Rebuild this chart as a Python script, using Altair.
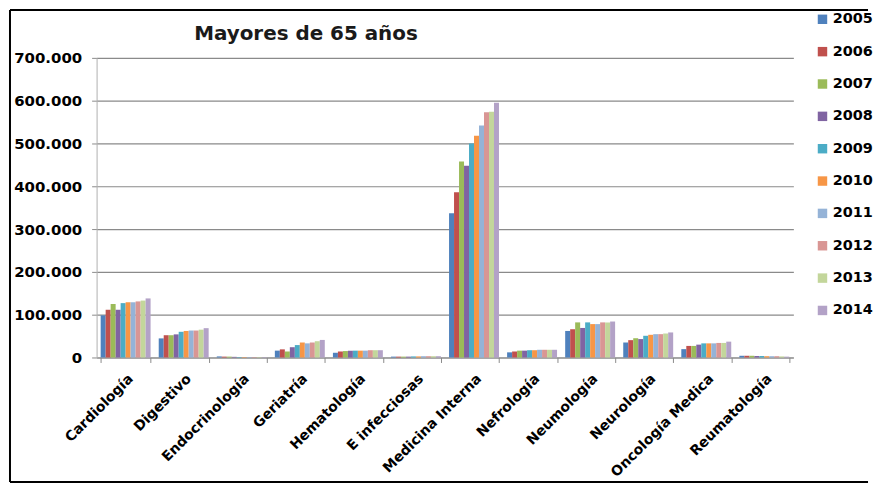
import altair as alt
import pandas as pd

categories = ["Cardiología", "Digestivo", "Endocrinología", "Geriatría", "Hematología",
              "E infecciosas", "Medicina Interna", "Nefrología", "Neumología",
              "Neurología", "Oncología Medica", "Reumatología"]
years = ["2005", "2006", "2007", "2008", "2009", "2010", "2011", "2012", "2013", "2014"]
chart_title = "Mayores de 65 años"

cardiologia = [98500, 111500, 125000, 111500, 127000, 129000, 129000, 131000, 133000, 138000]
digestivo = [44600, 52000, 52000, 54000, 60000, 62000, 63000, 63000, 65000, 68500]
endocrinologia = [2500, 2000, 2000, 1500, 1200, 1000, 1000, 1000, 1000, 1000]
geriatria = [16000, 19000, 14000, 24000, 29000, 35000, 33000, 35000, 38000, 41000]
hematologia = [11000, 14000, 15000, 16000, 16000, 16000, 16000, 17000, 17000, 17000]
e_infecciosas = [2000, 2000, 2000, 2000, 2500, 2500, 3000, 3000, 3000, 3000]
medicina_interna = [337000, 386000, 458000, 448000, 500000, 518000, 542000, 573000, 574000, 595000]
nefrologia = [12000, 14000, 16000, 16000, 17000, 17000, 18000, 18000, 18000, 18000]
neumologia = [62000, 66000, 82000, 69000, 82000, 78000, 78000, 82000, 82000, 84000]
neurologia = [35000, 40500, 45000, 43000, 50700, 53000, 54500, 54500, 56000, 58500]
oncologia = [19500, 27000, 27000, 30000, 33000, 33000, 33000, 34000, 34000, 37000]
reumatologia = [4000, 4000, 4000, 3500, 3500, 3000, 3000, 3000, 2500, 2000]

series = [cardiologia, digestivo, endocrinologia, geriatria, hematologia, e_infecciosas,
          medicina_interna, nefrologia, neumologia, neurologia, oncologia, reumatologia]

colors = ["#4F81BD", "#C0504D", "#9BBB59", "#8064A2", "#4BACC6",
          "#F79646", "#95B3D7", "#D99694", "#C3D69B", "#B3A2C7"]

rows = []
for cat, vals in zip(categories, series):
    for yr, v in zip(years, vals):
        rows.append({"cat": cat, "year": yr, "value": v})
df = pd.DataFrame(rows)

FONT = "DejaVu Sans"

bars = alt.Chart(df).mark_bar().encode(
    x=alt.X("cat:N", sort=categories,
            scale=alt.Scale(paddingInner=0.14, paddingOuter=0.07),
            axis=alt.Axis(title=None, labelAngle=-45, labelFont=FONT, labelFontSize=14,
                          labelFontWeight="bold", labelColor="black", tickBand="extent",
                          tickSize=5, tickColor="#8a8a8a", domainColor="#8a8a8a",
                          labelPadding=9)),
    xOffset=alt.XOffset("year:N", sort=years),
    y=alt.Y("value:Q", scale=alt.Scale(domain=[0, 700000]),
            axis=alt.Axis(title=None, values=[0, 100000, 200000, 300000, 400000, 500000, 600000, 700000],
                          labelExpr="replace(format(datum.value, ',d'), ',', '.')",
                          labelFont=FONT, labelFontSize=15, labelFontWeight="bold",
                          labelColor="black", tickSize=5, tickColor="#8a8a8a",
                          domainColor="#b0b0b0", gridColor="#8a8a8a", gridWidth=1.2,
                          labelPadding=10)),
    color=alt.Color("year:N", sort=years,
                    scale=alt.Scale(domain=years, range=colors),
                    legend=alt.Legend(title=None, orient="none", legendX=722, legendY=-46,
                                      symbolType="square", symbolSize=90, symbolStrokeWidth=0,
                                      labelFont=FONT, labelFontSize=14.5, labelFontWeight="bold",
                                      labelColor="black", rowPadding=17.5, labelOffset=3)),
)

one = pd.DataFrame({"t": [chart_title]})
frame_top = alt.Chart(one).mark_rule(color="black", strokeWidth=2).encode(
    x=alt.value(-87), x2=alt.value(775), y=alt.value(-48))
frame_left = alt.Chart(one).mark_rule(color="black", strokeWidth=2).encode(
    x=alt.value(-87), y=alt.value(-48), y2=alt.value(426))
frame_bottom = alt.Chart(one).mark_rule(color="black", strokeWidth=2).encode(
    x=alt.value(-87), x2=alt.value(775), y=alt.value(426))
title_text = alt.Chart(one).mark_text(
    align="left", baseline="alphabetic", font=FONT, fontSize=20, fontWeight="bold", color="#1a1a1a"
).encode(text="t:N", x=alt.value(98), y=alt.value(-18))

chart = alt.layer(frame_top, frame_left, frame_bottom, title_text, bars).properties(
    width=700, height=301,
    padding={"left": 1, "top": 0, "right": 0, "bottom": 0},
).configure_view(stroke="transparent")

chart.save("out.html", embed_options={"renderer": "svg", "actions": False})
